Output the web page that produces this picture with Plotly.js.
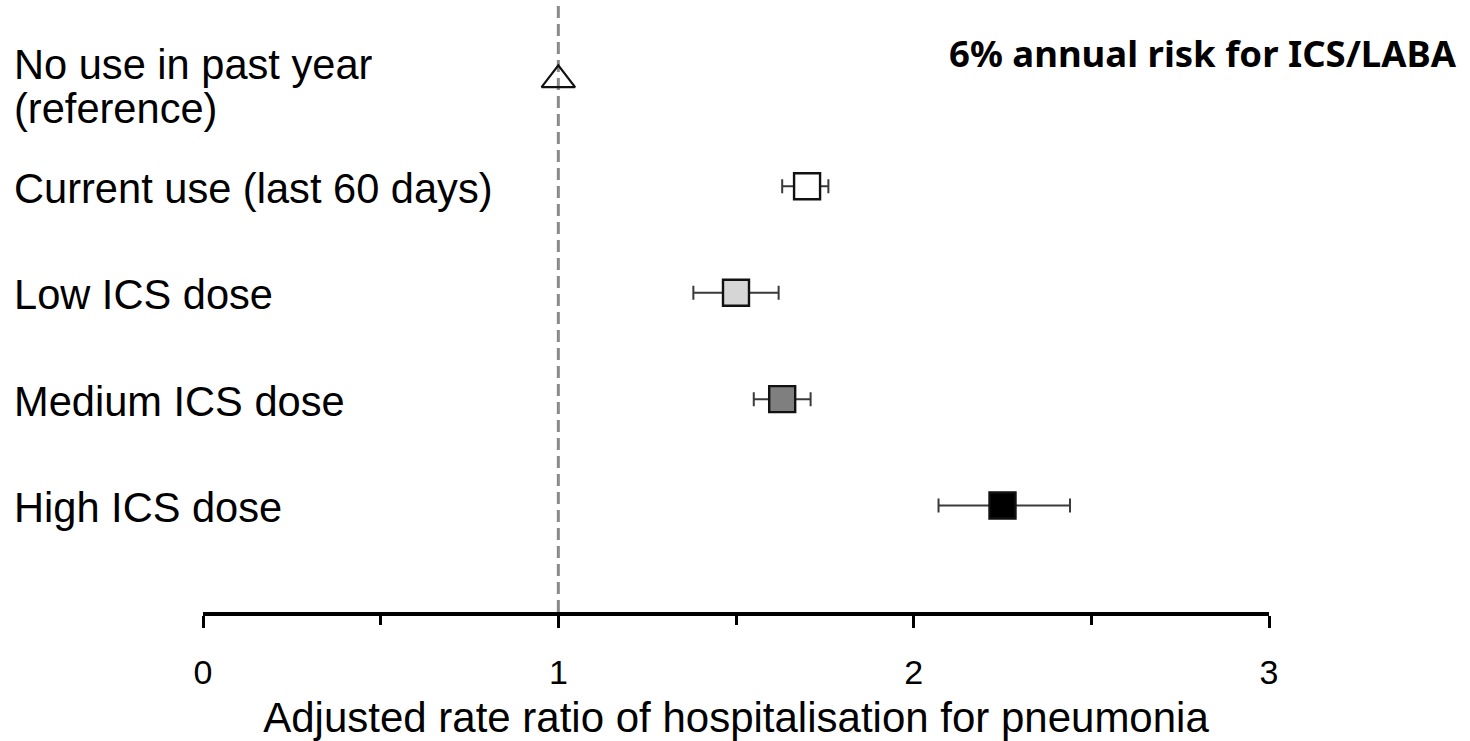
<!DOCTYPE html>
<html>
<head>
<meta charset="utf-8">
<script src="https://cdn.plot.ly/plotly-3.0.1.min.js"></script>
<style>
  html, body { margin: 0; padding: 0; background: #ffffff; }
  #chart { width: 1470px; height: 741px; }
</style>
</head>
<body>
<div id="chart"></div>
<script>
// Exposure groups, top to bottom
const groups = [
  "No use in past year<br>(reference)",
  "Current use (last 60 days)",
  "Low ICS dose",
  "Medium ICS dose",
  "High ICS dose"
];
// Adjusted rate ratios with 95% confidence limits
const rateRatio = [1.00, 1.70, 1.50, 1.63, 2.25];
const ciLower   = [null, 1.63, 1.38, 1.55, 2.07];
const ciUpper   = [null, 1.76, 1.62, 1.71, 2.44];
const fills     = ["#ffffff", "#ffffff", "#d6d6d6", "#7f7f7f", "#000000"];
const xTicks    = [0, 1, 2, 3];
const xMinor    = [0.5, 1.5, 2.5];
const noteText  = "6% annual risk for ICS/LABA";
const xTitle    = "Adjusted rate ratio of hospitalisation for pneumonia";

const rows = groups.map((_, i) => i);

// reference group: open triangle on the null line
const refTrace = {
  type: "scatter", mode: "markers",
  x: [rateRatio[0]], y: [rows[0]],
  marker: { symbol: "triangle-up-open", size: 29, color: "#111111", line: { width: 2.2, color: "#111111" } },
  hoverinfo: "skip", showlegend: false
};

// exposure groups with confidence intervals
const idx = rows.slice(1);
const estTrace = {
  type: "scatter", mode: "markers",
  x: idx.map(i => rateRatio[i]),
  y: idx,
  error_x: {
    type: "data", symmetric: false,
    array: idx.map(i => ciUpper[i] - rateRatio[i]),
    arrayminus: idx.map(i => rateRatio[i] - ciLower[i]),
    color: "#3a3a3a", thickness: 2, width: 7
  },
  marker: {
    symbol: "square", size: 26,
    color: idx.map(i => fills[i]),
    line: { width: 2.4, color: "#111111" }
  },
  hoverinfo: "skip", showlegend: false
};

// row labels, left aligned
const labelFont = { family: "Liberation Sans, Arial, sans-serif", size: 41.6, color: "#000000" };
const annotations = [];
groups.forEach((g, i) => {
  const lines = g.split("<br>");
  lines.forEach((ln, k) => {
    const offset = (k - (lines.length - 1) / 2) * 44;
    annotations.push({
      xref: "paper", yref: "y", x: -0.1788, y: rows[i],
      xanchor: "left", yanchor: "middle",
      text: ln, showarrow: false, font: labelFont,
      yshift: -(offset + (lines.length > 1 ? 7 : 2))
    });
  });
});
annotations.push({
  xref: "paper", yref: "paper", x: 1.1783, y: 0.913,
  xanchor: "right", yanchor: "middle",
  text: "<b>" + noteText + "</b>", showarrow: false,
  font: { family: "Noto Sans, sans-serif", size: 36.5, color: "#000000" }
});

const layout = {
  width: 1470, height: 741,
  margin: { l: 203, r: 201, t: 0, b: 129 },
  paper_bgcolor: "#ffffff", plot_bgcolor: "#ffffff",
  showlegend: false,
  xaxis: {
    range: [0, 3],
    tickmode: "array", tickvals: xTicks, ticktext: xTicks.map(String),
    ticks: "outside", ticklen: 12, tickwidth: 3, tickcolor: "#000000",
    minor: { tickmode: "array", tickvals: xMinor, ticks: "outside", ticklen: 9, tickwidth: 3, tickcolor: "#000000" },
    showline: true, linewidth: 4, linecolor: "#000000",
    showgrid: false, zeroline: false,
    tickfont: { family: "Liberation Sans, Arial, sans-serif", size: 34, color: "#000000" },
    ticklabelstandoff: 15,
    title: { text: xTitle, standoff: 15, font: { family: "Liberation Sans, Arial, sans-serif", size: 42, color: "#000000" } },
    automargin: false, fixedrange: true
  },
  yaxis: {
    range: [5, -0.75], visible: false, fixedrange: true
  },
  shapes: [{
    type: "line", xref: "x", yref: "paper", x0: 1, x1: 1, y0: 0, y1: 1,
    line: { color: "#8a8a8a", width: 3, dash: "12px,6px" }, layer: "below"
  }],
  annotations: annotations
};

Plotly.newPlot("chart", [refTrace, estTrace], layout, { staticPlot: true, displayModeBar: false });
</script>
</body>
</html>
